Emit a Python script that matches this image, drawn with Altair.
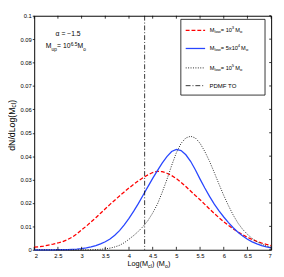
import altair as alt
import pandas as pd

# ---------------- data ----------------
xs = [2.0, 2.1, 2.2, 2.3, 2.4, 2.5, 2.6, 2.7, 2.8, 2.9,
      3.0, 3.1, 3.2, 3.3, 3.4, 3.5, 3.6, 3.7, 3.8, 3.9,
      4.0, 4.1, 4.2, 4.3, 4.4, 4.5, 4.6, 4.7, 4.8, 4.9,
      5.0, 5.1, 5.2, 5.3, 5.4, 5.5, 5.6, 5.7, 5.8, 5.9,
      6.0, 6.1, 6.2, 6.3, 6.4, 6.5, 6.6, 6.7, 6.8, 6.9, 7.0]

m_low_1e3 = [0.0011, 0.0013, 0.0016, 0.0020, 0.0024, 0.0029, 0.0035, 0.0043, 0.0054, 0.0068,
             0.0085, 0.0101, 0.0119, 0.0137, 0.0156, 0.0175, 0.0194, 0.0212, 0.0230, 0.0247,
             0.0264, 0.0280, 0.0295, 0.0308, 0.0320, 0.0330, 0.0335, 0.0334, 0.0327, 0.0317,
             0.0304, 0.0288, 0.0270, 0.0251, 0.0232, 0.0214, 0.0194, 0.0174, 0.0155, 0.0137,
             0.0120, 0.0104, 0.0089, 0.0076, 0.0064, 0.0053, 0.0044, 0.0036, 0.0029, 0.0023, 0.0018]

m_low_5e4 = [0.0000, 0.0000, 0.0000, 0.0000, 0.0000, 0.0001, 0.0001, 0.0001, 0.0002, 0.0003,
             0.0005, 0.0008, 0.0012, 0.0018, 0.0025, 0.0034, 0.0046, 0.0062, 0.0082, 0.0106,
             0.0134, 0.0165, 0.0198, 0.0234, 0.0270, 0.0305, 0.0338, 0.0370, 0.0398, 0.0420,
             0.0429, 0.0424, 0.0406, 0.0378, 0.0342, 0.0302, 0.0264, 0.0228, 0.0195, 0.0166,
             0.0140, 0.0116, 0.0094, 0.0075, 0.0059, 0.0045, 0.0034, 0.0025, 0.0018, 0.0012, 0.0008]

m_low_1e5 = [0.0000, 0.0000, 0.0000, 0.0000, 0.0000, 0.0000, 0.0000, 0.0000, 0.0000, 0.0000,
             0.0000, 0.0000, 0.0000, 0.0001, 0.0002, 0.0004, 0.0007, 0.0012, 0.0019, 0.0030,
             0.0045, 0.0061, 0.0079, 0.0100, 0.0125, 0.0157, 0.0195, 0.0245, 0.0300, 0.0360,
             0.0415, 0.0455, 0.0478, 0.0485, 0.0478, 0.0455, 0.0420, 0.0378, 0.0330, 0.0280,
             0.0232, 0.0188, 0.0148, 0.0114, 0.0087, 0.0066, 0.0048, 0.0034, 0.0024, 0.0016, 0.0011]

pdmf_to = [4.33]

x_ticks = [2, 2.5, 3, 3.5, 4, 4.5, 5, 5.5, 6, 6.5, 7]
y_ticks = [0, 0.01, 0.02, 0.03, 0.04, 0.05, 0.06, 0.07, 0.08, 0.09, 0.1]

# ---------------- layout ----------------
W, H = 244, 241
FONT = "Liberation Sans"

df = pd.DataFrame({"x": xs, "a": m_low_1e3, "b": m_low_5e4, "c": m_low_1e5})
xsc = alt.Scale(domain=[2, 7], nice=False, zero=False)
ysc = alt.Scale(domain=[0, 0.1], nice=False, zero=False)

x_axis = alt.Axis(values=x_ticks, format="~g", ticks=False, domain=False, grid=False,
                  labelFontSize=6, labelFont=FONT, labelColor="#000", labelPadding=3,
                  title=None)
y_axis = alt.Axis(values=y_ticks, format="~g", tickSize=2, tickColor="#000", tickWidth=0.8,
                  domain=False, grid=False, labelFontSize=6, labelFont=FONT,
                  labelColor="#000", labelPadding=1, title=None)


def X(field):
    return alt.X(field, scale=xsc, axis=x_axis)


def Y(field):
    return alt.Y(field, scale=ysc, axis=y_axis)


red = alt.Chart(df).mark_line(color="#ff0000", strokeDash=[4, 2], strokeWidth=1.3).encode(
    x=X("x:Q"), y=Y("a:Q"))
blue = alt.Chart(df).mark_line(color="#2846ff", strokeWidth=1.3).encode(
    x=X("x:Q"), y=Y("b:Q"))
dots = alt.Chart(df).mark_line(color="#222222", strokeDash=[1, 1.5], strokeWidth=1).encode(
    x=X("x:Q"), y=Y("c:Q"))

vline = alt.Chart(pd.DataFrame({"x": pdmf_to})).mark_rule(
    color="#000", strokeDash=[5, 2, 1, 2], strokeWidth=0.8).encode(x=X("x:Q"))

xt = pd.DataFrame({"x": x_ticks})
yt = pd.DataFrame({"a": y_ticks})
tick_top = alt.Chart(xt).mark_rule(color="#000", strokeWidth=0.8).encode(
    x=X("x:Q"), y=alt.value(0), y2=alt.value(3))
tick_bot = alt.Chart(xt).mark_rule(color="#000", strokeWidth=0.8).encode(
    x=X("x:Q"), y=alt.value(H), y2=alt.value(H - 3))
tick_right = alt.Chart(yt).mark_rule(color="#000", strokeWidth=0.8).encode(
    y=Y("a:Q"), x=alt.value(W), x2=alt.value(W - 2))

one = pd.DataFrame({"k": [0]})
legend_box = alt.Chart(one).mark_rect(fill="white", stroke="#000", strokeWidth=0.8).encode(
    x=alt.value(151), x2=alt.value(237.7), y=alt.value(3.7), y2=alt.value(81.7))

rows = [15, 33.7, 53.7, 72]
lx1, lx2 = 156, 176
leg_red = alt.Chart(one).mark_rule(color="#ff0000", strokeDash=[4, 2], strokeWidth=1.3).encode(
    x=alt.value(lx1), x2=alt.value(lx2), y=alt.value(rows[0]))
leg_blue = alt.Chart(one).mark_rule(color="#2846ff", strokeWidth=1.3).encode(
    x=alt.value(lx1), x2=alt.value(lx2), y=alt.value(rows[1]))
leg_dot = alt.Chart(one).mark_rule(color="#222222", strokeDash=[1, 1.5], strokeWidth=1).encode(
    x=alt.value(lx1), x2=alt.value(lx2), y=alt.value(rows[2]))
leg_dd = alt.Chart(one).mark_rule(color="#000", strokeDash=[5, 2, 1, 2], strokeWidth=0.8).encode(
    x=alt.value(lx1), x2=alt.value(lx2), y=alt.value(rows[3]))

# text pieces: (text, x, y, font size)
M, S = 5.8, 4.3
pieces = []
for r, sup, wide in [(rows[0], "3", False), (rows[1], "4", True), (rows[2], "5", False)]:
    pieces += [("M", 180.7, r, M), ("low", 185.7, r + 1.8, S)]
    if wide:
        pieces += [("= 5x10", 192.2, r, M), (sup, 209.6, r - 2.2, S),
                   ("M", 213, r, M), ("o", 218, r + 1.8, S)]
    else:
        pieces += [("= 10", 192.2, r, M), (sup, 203.5, r - 2.2, S),
                   ("M", 207, r, M), ("o", 212, r + 1.8, S)]
pieces += [("PDMF TO", 180.5, rows[3], 6.2)]

# annotation in upper-left
pieces += [("α = −1.5", 22, 19, 7)]
ay = 31.7
pieces += [("M", 12, ay, 7), ("up", 17.8, ay + 2.3, 5), ("= 10", 23.5, ay, 7),
           ("6.5", 37.5, ay - 2.4, 5), ("M", 44.5, ay, 7), ("o", 50.4, ay + 2.3, 5)]

# x-axis title
ty = 255.5
pieces += [("Log(M", 96, ty, 7.5), ("cl", 117.3, ty + 2.2, 5.5), (") (M", 121.3, ty, 7.5),
           ("o", 134.6, ty + 2.2, 5.5), (")", 137.8, ty, 7.5)]

tp = pd.DataFrame(pieces, columns=["t", "px", "py", "fs"])
texts = alt.Chart(tp).mark_text(align="left", baseline="middle", font=FONT, color="#000").encode(
    x=alt.X("px:Q", scale=None), y=alt.Y("py:Q", scale=None),
    text="t:N", size=alt.Size("fs:Q", scale=None))

# rotated y-axis title
yx = -23
ypieces = [("dN/dLog(M", yx, 139, 9), ("cl", yx + 2.3, 94.4, 6.5), (")", yx, 89.6, 9)]
yp = pd.DataFrame(ypieces, columns=["t", "px", "py", "fs"])
ytitle = alt.Chart(yp).mark_text(align="left", baseline="middle", font=FONT, color="#000",
                                 angle=270).encode(
    x=alt.X("px:Q", scale=None), y=alt.Y("py:Q", scale=None),
    text="t:N", size=alt.Size("fs:Q", scale=None))

chart = alt.layer(
    red, blue, dots, vline, tick_top, tick_bot, tick_right,
    legend_box, leg_red, leg_blue, leg_dot, leg_dd, texts, ytitle
).properties(
    width=W, height=H,
    autosize=alt.AutoSizeParams(type="none"),
    padding={"left": 27, "top": 4, "right": 5, "bottom": 22},
    background="white",
).configure_view(stroke="#000", strokeWidth=1)

chart.save("out.html", embed_options={"renderer": "svg", "actions": False})
